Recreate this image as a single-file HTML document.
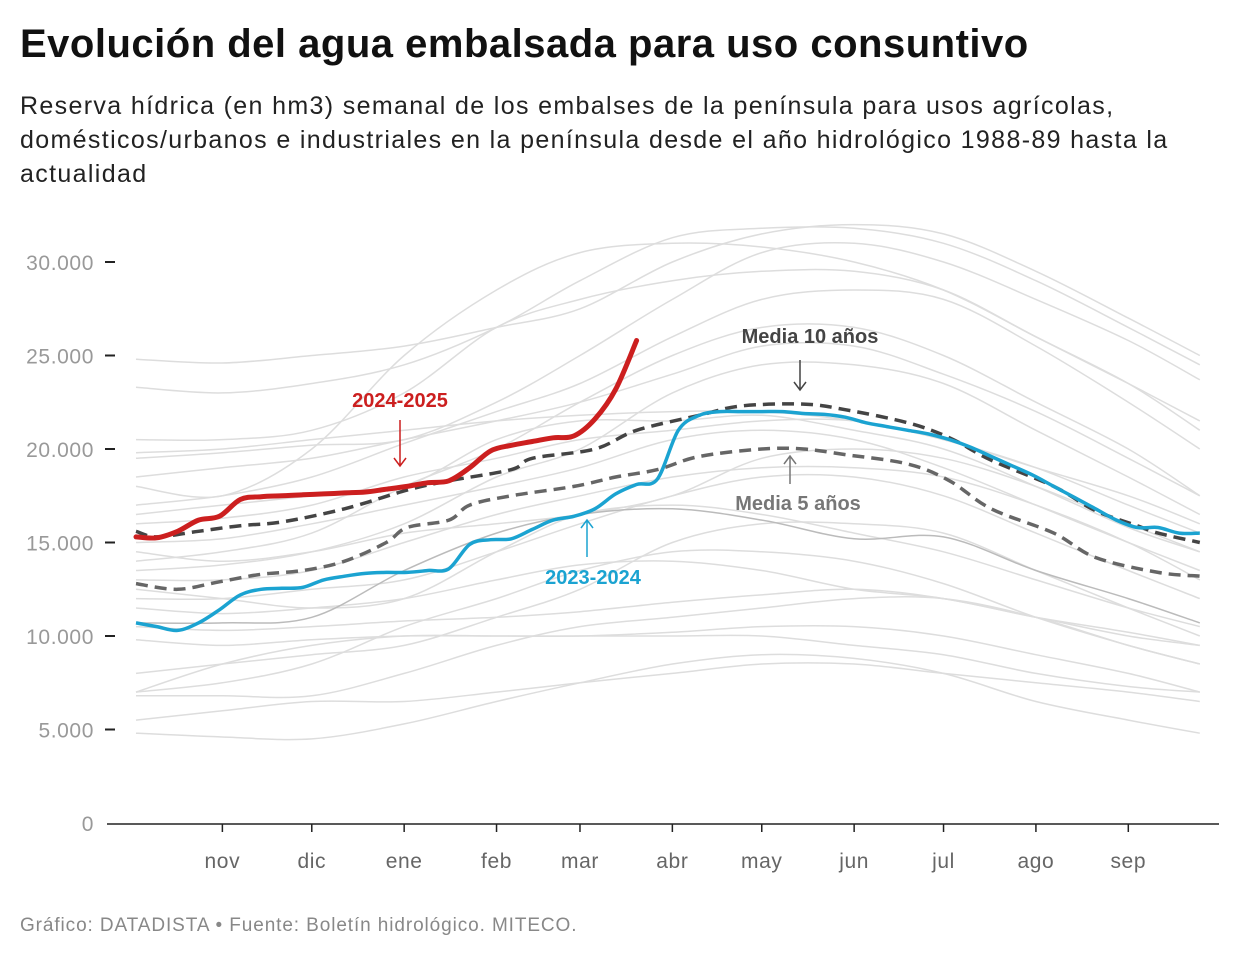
<!DOCTYPE html>
<html><head><meta charset="utf-8">
<style>
body{margin:0;background:#fff;width:1240px;height:960px;overflow:hidden;font-family:"Liberation Sans",Arial,sans-serif}
#title{position:absolute;left:20px;top:22px;font-size:40px;font-weight:bold;color:#111;margin:0;letter-spacing:0.5px;white-space:nowrap}
#sub{position:absolute;left:20px;top:89px;width:1220px;font-size:25px;line-height:34px;color:#222;letter-spacing:1.35px;white-space:nowrap}
#foot{position:absolute;left:20px;top:915px;font-size:19px;color:#888;letter-spacing:0.9px}
svg{position:absolute;left:0;top:0}
</style></head><body>
<h1 id="title">Evolución del agua embalsada para uso consuntivo</h1>
<div id="sub">Reserva hídrica (en hm3) semanal de los embalses de la península para usos agrícolas,<br>domésticos/urbanos e industriales en la península desde el año hidrológico 1988-89 hasta la<br>actualidad</div>
<div id="foot">Gráfico: DATADISTA • Fuente: Boletín hidrológico. MITECO.</div>
<svg id="chart" width="1240" height="960"></svg>
<script>
const yTicks=[0,5000,10000,15000,20000,25000,30000];
const yTickLabels=["0","5.000","10.000","15.000","20.000","25.000","30.000"];
const monthLabels=["nov","dic","ene","feb","mar","abr","may","jun","jul","ago","sep"];
const monthDays=[31,61,92,123,151,182,212,243,273,304,335];
const grayDays=[2,31,61,92,123,151,182,212,243,273,304,335,359];
const grayYears=[
[24.8,24.6,25.0,25.5,26.5,27.5,30.0,31.5,32.0,31.5,29.5,27.0,25.0],
[23.3,23.0,23.5,24.5,26.5,29.0,31.3,31.8,31.8,31.0,29.0,26.5,24.5],
[19.5,19.8,20.2,20.5,22.5,25.0,28.0,30.5,31.0,30.0,28.0,25.8,23.7],
[18.0,17.5,20.0,25.0,28.5,30.5,31.0,30.8,30.0,28.5,26.0,23.5,21.5],
[17.0,17.5,18.5,20.3,22.0,23.5,26.0,28.0,28.5,28.0,25.5,22.5,20.0],
[14.0,14.5,15.5,18.0,20.0,22.5,25.0,26.5,26.5,25.0,22.5,20.0,17.5],
[13.5,13.8,14.5,16.0,18.5,20.0,23.0,24.5,24.5,23.5,21.0,18.5,16.5],
[19.8,20.0,20.5,21.0,21.5,21.8,22.0,22.0,21.5,20.5,19.0,17.5,16.0],
[16.5,17.0,17.5,18.0,20.5,21.5,21.5,21.8,21.0,20.0,18.0,15.8,14.5],
[15.0,15.2,16.0,17.0,18.0,19.0,20.5,21.0,20.5,19.0,17.0,15.0,13.5],
[12.0,12.0,12.5,13.0,14.5,16.0,17.5,18.5,18.5,17.5,15.5,13.5,12.0],
[11.5,11.2,11.5,12.0,13.0,13.8,14.0,13.5,12.5,12.0,11.0,10.0,9.5],
[10.5,10.3,10.5,10.8,11.0,11.3,11.8,12.2,12.5,12.0,11.0,10.2,9.5],
[9.8,9.5,9.8,10.0,10.0,10.0,10.0,10.0,9.5,9.0,8.0,7.3,7.0],
[7.0,8.5,9.5,10.0,10.0,10.0,10.2,10.5,10.5,10.0,9.0,8.0,7.0],
[6.8,6.8,6.8,8.0,9.5,10.5,11.0,11.5,12.0,12.0,11.0,9.5,8.5],
[4.8,4.6,4.5,5.3,6.5,7.5,8.5,9.0,8.8,8.0,6.5,5.5,4.8],
[7.0,7.5,8.5,10.5,12.0,13.5,14.5,14.5,14.0,12.8,11.0,9.5,8.5],
[13.0,13.0,13.5,15.0,16.5,17.5,18.5,19.0,19.0,18.5,17.0,15.0,13.0],
[18.5,19.0,19.5,20.5,21.5,22.5,24.0,25.5,25.5,24.0,22.0,19.5,17.5],
[20.5,20.5,21.0,23.0,26.5,28.0,29.0,29.5,29.5,28.5,26.0,23.5,21.0],
[12.5,12.0,11.5,12.0,14.5,16.5,17.0,16.5,15.5,14.5,13.0,11.5,10.5],
[14.5,14.0,14.5,15.5,16.0,16.5,17.5,19.5,20.0,19.5,18.0,16.0,14.5],
[8.0,8.5,9.0,9.5,11.0,12.5,15.0,16.0,16.0,15.5,13.5,11.5,10.0],
[5.5,6.0,6.5,6.5,7.0,7.5,8.0,8.5,8.5,8.0,7.5,7.0,6.5],
[16.0,16.3,17.0,18.5,19.5,20.5,21.0,21.5,21.5,20.5,19.0,17.0,15.5]
];
const y2223=[10.7,10.7,11.0,13.5,15.5,16.5,16.8,16.2,15.2,15.3,13.5,12.0,10.7];
const red2425=[15.3,15.25,15.6,16.2,16.4,17.3,17.45,17.5,17.55,17.6,17.65,17.7,17.85,18.0,18.2,18.3,19.0,19.9,20.2,20.4,20.6,20.7,21.6,23.2,25.8];
const blue2324=[10.7,10.5,10.3,10.7,11.4,12.2,12.5,12.55,12.6,13.0,13.2,13.35,13.4,13.4,13.5,13.6,14.9,15.15,15.2,15.7,16.2,16.4,16.8,17.6,18.1,18.4,21.0,21.8,22.0,22.0,22.0,22.0,21.9,21.85,21.7,21.4,21.2,21.0,20.8,20.5,20.1,19.6,19.1,18.6,18.0,17.4,16.8,16.2,15.8,15.8,15.5,15.5];
const avg10Weeks=[0,1,3,5,7,10,13,15,18,19,22,24,27,29,32,34,37,39,41,44,46,48,49,51];
const avg10Values=[15.6,15.3,15.6,15.9,16.1,16.8,17.8,18.3,18.9,19.5,20.0,21.0,21.8,22.3,22.4,22.1,21.4,20.6,19.4,18.0,16.7,15.9,15.5,15.0];
const avg5Weeks=[0,2,4,6,8,10,12,13,15,16,18,21,23,25,27,30,32,34,37,39,41,44,46,49,51];
const avg5Values=[12.8,12.5,12.9,13.3,13.5,14.0,15.0,15.8,16.2,17.0,17.5,18.0,18.5,18.9,19.6,20.0,20.0,19.7,19.2,18.3,16.8,15.5,14.2,13.4,13.2];

const svg=document.getElementById('chart');
const NS='http://www.w3.org/2000/svg';
const xDay=d=>130+d*2.98;
const xWeek=w=>xDay(2+w*7);
const yVal=v=>823-v*(561/30000);
function mk(tag,attrs,parent){const e=document.createElementNS(NS,tag);for(const k in attrs)e.setAttribute(k,attrs[k]);(parent||svg).appendChild(e);return e;}
function pathD(pts){let d='M'+pts[0][0].toFixed(1)+','+pts[0][1].toFixed(1);
 for(let i=0;i<pts.length-1;i++){const p0=pts[i-1]||pts[i],p1=pts[i],p2=pts[i+1],p3=pts[i+2]||p2;
  const c1x=p1[0]+(p2[0]-p0[0])/6,c1y=p1[1]+(p2[1]-p0[1])/6,c2x=p2[0]-(p3[0]-p1[0])/6,c2y=p2[1]-(p3[1]-p1[1])/6;
  d+='C'+c1x.toFixed(1)+','+c1y.toFixed(1)+' '+c2x.toFixed(1)+','+c2y.toFixed(1)+' '+p2[0].toFixed(1)+','+p2[1].toFixed(1);}
 return d;}
yTicks.forEach((t,i)=>{
 if(t>0){const tk=mk('line',{x1:105,x2:115,y1:yVal(t),y2:yVal(t),stroke:'#222','stroke-width':2});
 }
 const l=mk('text',{x:94,y:yVal(t)+8,'text-anchor':'end','font-size':21,fill:'#999','letter-spacing':'0.6'});l.textContent=yTickLabels[i];
 
});
const ax=mk('line',{x1:107,x2:1219,y1:824,y2:824,stroke:'#222','stroke-width':1.5});

monthDays.forEach((d,i)=>{
 const tk=mk('line',{x1:xDay(d),x2:xDay(d),y1:824,y2:832,stroke:'#222','stroke-width':1.5});
 
 const l=mk('text',{x:xDay(d),y:868,'text-anchor':'middle','font-size':21,fill:'#666','letter-spacing':'0.6'});l.textContent=monthLabels[i];
 
});
grayYears.forEach(vals=>{
 const p=mk('path',{d:pathD(vals.map((v,i)=>[xDay(grayDays[i]),yVal(v*1000)])),fill:'none',stroke:'#ddd','stroke-width':1.5});
 
});
const g23=mk('path',{d:pathD(y2223.map((v,i)=>[xDay(grayDays[i]),yVal(v*1000)])),fill:'none',stroke:'#bbb','stroke-width':1.5});

const a5=mk('path',{d:pathD(avg5Values.map((v,i)=>[xWeek(avg5Weeks[i]),yVal(v*1000)])),fill:'none',stroke:'#666','stroke-width':3.5,'stroke-dasharray':'12 7'});

const a10=mk('path',{d:pathD(avg10Values.map((v,i)=>[xWeek(avg10Weeks[i]),yVal(v*1000)])),fill:'none',stroke:'#444','stroke-width':3.5,'stroke-dasharray':'12 7'});

const bl=mk('path',{d:pathD(blue2324.map((v,i)=>[xWeek(i),yVal(v*1000)])),fill:'none',stroke:'#1ba3d1','stroke-width':3.5});

const rd=mk('path',{d:pathD(red2425.map((v,i)=>[xWeek(i),yVal(v*1000)])),fill:'none',stroke:'#cc1f1f','stroke-width':5,'stroke-linecap':'round'});

function ann(name,txt,tx,ty,color,ax1,ay1,ay2){
 const t=mk('text',{x:tx,y:ty,'text-anchor':'middle','font-size':20,'font-weight':'bold',fill:color});t.textContent=txt;
 
 const dir=ay2>ay1?-1:1;
 const a=mk('path',{d:`M${ax1},${ay1}L${ax1},${ay2}M${ax1-6},${ay2+dir*8}L${ax1},${ay2}L${ax1+6},${ay2+dir*8}`,fill:'none',stroke:color,'stroke-width':1.5});
 
}
ann('label-2024-2025','2024-2025',400,407,'#cc1f1f',400,420,466);
ann('label-media-10','Media 10 años',810,343,'#444',800,360,390);
ann('label-media-5','Media 5 años',798,510,'#777',790,484,456);
ann('label-2023-2024','2023-2024',593,584,'#1ba3d1',587,557,520);
</script>
</body></html>
